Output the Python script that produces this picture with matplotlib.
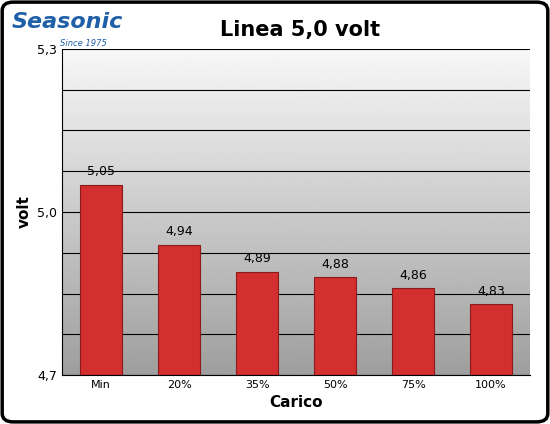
import matplotlib
matplotlib.use("Agg")
import matplotlib.pyplot as plt
import numpy as np
from matplotlib.patches import FancyBboxPatch

categories = ["Min", "20%", "35%", "50%", "75%", "100%"]
values = [5.05, 4.94, 4.89, 4.88, 4.86, 4.83]
yticks = [4.7, 5.0, 5.3]
ytick_labels = ["4,7", "5,0", "5,3"]

fig = plt.figure(figsize=(5.5, 4.24), dpi=100)
fig.patch.set_facecolor("white")
fig.patches.append(FancyBboxPatch((0.004, 0.005), 0.992, 0.99, boxstyle="round,pad=0,rounding_size=0.02",
                                  transform=fig.transFigure, fill=False, lw=2.5, ec="black"))
ax = fig.add_axes([62/550, 1-375/424, 468/550, 326/424])
ax.set_ylim(4.7, 5.3)
ax.set_xlim(-0.5, len(categories)-0.5)
grad = np.linspace(0.97, 0.62, 256).reshape(-1, 1)
ax.imshow(grad, cmap="gray", vmin=0, vmax=1, aspect="auto",
          extent=[-0.5, len(categories)-0.5, 4.7, 5.3], origin="upper", zorder=0)
for g in np.arange(4.7, 5.3001, 0.075):
    ax.axhline(g, color="black", lw=0.8, zorder=1)
x = np.arange(len(categories))
bars = ax.bar(x, np.array(values)-4.7, bottom=4.7, width=0.55, color="#d32f2f",
              edgecolor="#8b1a1a", lw=0.8, zorder=2)
for xi, v in zip(x, values):
    ax.text(xi, v+0.012, f"{v:.2f}".replace(".", ","), ha="center", va="bottom", fontsize=9, zorder=3)
ax.set_xticks(x, categories, fontsize=8)
ax.set_yticks(yticks, ytick_labels, fontsize=9)
ax.tick_params(length=0)
for s in ax.spines.values():
    s.set_visible(False)
ax.spines["left"].set_visible(True)
ax.spines["bottom"].set_visible(True)
ax.set_xlabel("Carico", fontsize=11, fontweight="bold", labelpad=4)
ax.set_ylabel("volt", fontsize=11, fontweight="bold")
fig.text(300/550, 1-30/424, "Linea 5,0 volt", ha="center", va="center", fontsize=15, fontweight="bold")
fig.text(12/550, 1-22/424, "Seasonic", ha="left", va="center", fontsize=16, fontweight="bold",
         style="italic", color="#1f5fa8")
fig.text(60/550, 1-44/424, "Since 1975", ha="left", va="center", fontsize=6, style="italic", color="#1f5fa8")
fig.savefig("out.png", dpi=100)
